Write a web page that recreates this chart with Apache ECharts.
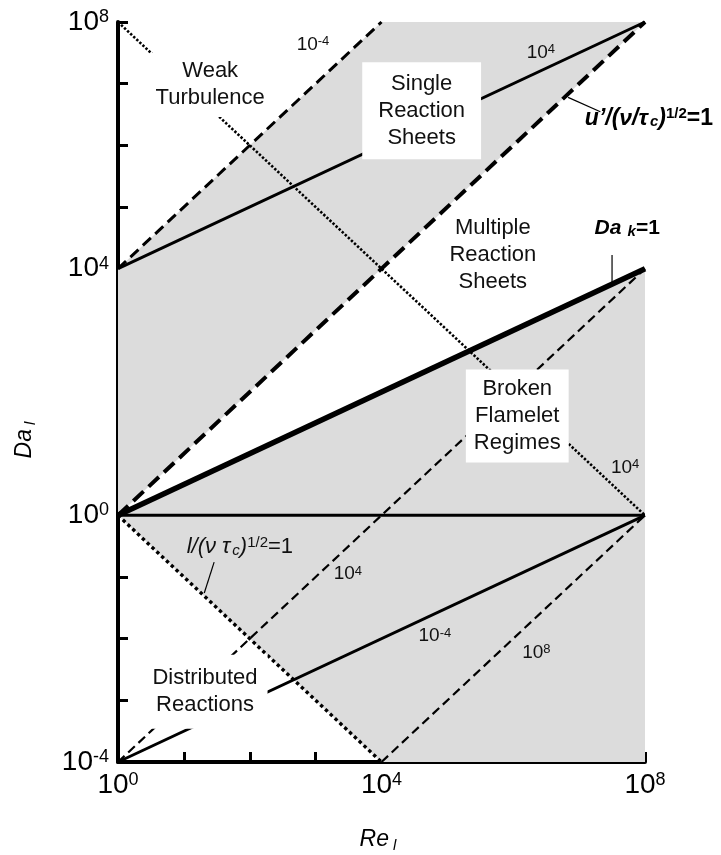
<!DOCTYPE html>
<html>
<head>
<meta charset="utf-8">
<script src="https://cdn.jsdelivr.net/npm/echarts@6/dist/echarts.min.js"></script>
<style>
  html, body { margin: 0; padding: 0; background: #fff; }
  #chart { width: 721px; height: 855px; }
</style>
</head>
<body>
<div id="chart"></div>
<script>
const FONT = "'Liberation Sans', Arial, Helvetica, sans-serif";

// Axis extents: Re_l horizontally, Da_l vertically, both logarithmic
const reExtent = [1, 1e8];
const daExtent = [1e-4, 1e8];
// Decades (powers of ten) that carry a printed tick label
const labelledDecades = [-4, 0, 4, 8];

// Regime boundaries
const velocityRatioLine = [[1, 1], [1e8, 1e8]];   // u'/(nu/tau_c)^1/2 = 1
const kolmogorovDaLine = [[1, 1], [1e8, 1e4]];    // Da_k = 1
const integralDaLine = [[1, 1], [1e8, 1]];        // Da_l = 1
const lengthRatioLine = [[1, 1], [1e4, 1e-4]];    // l/(nu tau_c)^1/2 = 1
const weakTurbulenceLine = [[1, 1e8], [1e8, 1]];

// Iso-lines
const dashedTop = [[1, 1e4], [1e4, 1e8]];
const solidTop = [[1, 1e4], [1e8, 1e8]];
const dashedMiddle = [[1, 1e-4], [1e8, 1e4]];
const dashedBottom = [[1e4, 1e-4], [1e8, 1]];
const solidBottom = [[1, 1e-4], [1e8, 1]];

// Shaded regimes (polygons)
const shadedUpper = [[1, 1], [1, 1e4], [1e4, 1e8], [1e8, 1e8]];
const shadedLower = [[1, 1], [1e8, 1e4], [1e8, 1e-4], [1e4, 1e-4]];

// Leader lines for the boundary labels
const velocityLeader = [[6.8e6, 6.0e6], [2.1e7, 3.5e6]];
const kolmogorovLeader = [[3.16e7, 1.66e4], [3.16e7, 6.0e3]];
const lengthLeader = [[28.8, 0.174], [20.4, 0.055]];

// Text annotations anchored in data coordinates
const regionLabels = [
  { at: [25.1, 9.55e6], text: 'Weak\nTurbulence', pad: [5, 5] },
  { at: [4.07e4, 3.63e6], text: 'Single\nReaction\nSheets', pad: [8, 16] },
  { at: [4.9e5, 1.66e4], text: 'Multiple\nReaction\nSheets', pad: null },
  { at: [1.15e6, 40.7], text: 'Broken\nFlamelet\nRegimes', pad: [6, 8] },
  { at: [20.9, 1.38e-3], text: 'Distributed\nReactions', pad: [10, 10] }
];
const isoLabels = [
  { at: [912, 4.27e7], exp: '-4' },
  { at: [2.63e6, 3.16e7], exp: '4' },
  { at: [5.0e7, 6.0], exp: '4' },
  { at: [3.09e3, 0.112], exp: '4' },
  { at: [6.46e4, 0.011], exp: '-4' },
  { at: [2.24e6, 6.0e-3], exp: '8' }
];
const velocityLabelAt = [1.2e7, 2.75e6];
const kolmogorovLabelAt = [5.37e7, 4.57e4];
const lengthLabelAt = [70.8, 0.309];

function segment(data, width, dash, z) {
  return {
    type: 'line', data: data, symbol: 'none', showSymbol: false,
    silent: true, animation: false, z: z || 3, clip: true,
    lineStyle: { color: '#000', width: width, type: dash || 'solid', cap: 'butt', opacity: 1 }
  };
}

const richMath = {
  bi: { fontFamily: FONT, fontSize: 23, fontStyle: 'italic', fontWeight: 'bold', color: '#000' },
  bsub: { fontFamily: FONT, fontSize: 15, fontStyle: 'italic', fontWeight: 'bold', color: '#000', verticalAlign: 'bottom', padding: [8, 0, 0, 2] },
  bsup: { fontFamily: FONT, fontSize: 15, fontWeight: 'bold', color: '#000', verticalAlign: 'top' },
  b: { fontFamily: FONT, fontSize: 23, fontWeight: 'bold', color: '#000' },
  bk: { fontFamily: FONT, fontSize: 21, fontStyle: 'italic', fontWeight: 'bold', color: '#000' },
  bk2: { fontFamily: FONT, fontSize: 21, fontWeight: 'bold', color: '#000' },
  i: { fontFamily: FONT, fontSize: 22, fontStyle: 'italic', color: '#111' },
  isub: { fontFamily: FONT, fontSize: 15, fontStyle: 'italic', color: '#111', verticalAlign: 'bottom', padding: [8, 0, 0, 2] },
  isup: { fontFamily: FONT, fontSize: 15, color: '#111', verticalAlign: 'top' },
  r: { fontFamily: FONT, fontSize: 22, color: '#111' },
  n: { fontFamily: FONT, fontSize: 19, color: '#111' },
  p: { fontFamily: FONT, fontSize: 13, color: '#111', verticalAlign: 'top' }
};

const labelItems = [];
regionLabels.forEach(function (r) {
  const lab = {
    show: true, position: 'inside', formatter: r.text, opacity: 1,
    fontFamily: FONT, fontSize: 22, lineHeight: 27, color: '#111', align: 'center'
  };
  if (r.pad) { lab.backgroundColor = '#fff'; lab.padding = r.pad; }
  labelItems.push({ value: r.at, label: lab });
});
isoLabels.forEach(function (l) {
  labelItems.push({ value: l.at, label: {
    show: true, position: 'inside', opacity: 1, formatter: '{n|10}{p|' + l.exp + '}', rich: richMath
  } });
});
labelItems.push({ value: velocityLabelAt, label: {
  show: true, position: 'right', distance: 0, opacity: 1,
  formatter: '{bi|u\u2019/(\u03bd/\u03c4}{bsub|c}{bi|)}{bsup|1/2}{b|=1}', rich: richMath
} });
labelItems.push({ value: kolmogorovLabelAt, label: {
  show: true, position: 'inside', opacity: 1,
  formatter: '{bk|Da}{bsub| k}{bk2|=1}', rich: richMath
} });
labelItems.push({ value: lengthLabelAt, label: {
  show: true, position: 'inside', opacity: 1,
  formatter: '{i|l/(\u03bd \u03c4}{isub|c}{i|)}{isup|1/2}{r|=1}', rich: richMath
} });

const tickLabelRich = {
  b: { fontFamily: FONT, fontSize: 28, color: '#000' },
  s: { fontFamily: FONT, fontSize: 18, color: '#000', verticalAlign: 'top' }
};
function decadeLabel(v) {
  const e = Math.round(Math.log10(v));
  return labelledDecades.indexOf(e) >= 0 ? '{b|10}{s|' + e + '}' : '';
}

const axisCommon = {
  type: 'log', logBase: 10, interval: 1,
  axisLine: { show: true, onZero: false, lineStyle: { color: '#000', width: 4 } },
  axisTick: { show: true, inside: true, length: 10, lineStyle: { color: '#000', width: 3 } },
  splitLine: { show: false },
  minorTick: { show: false },
  axisLabel: { formatter: decadeLabel, rich: tickLabelRich, margin: 9, showMinLabel: true, showMaxLabel: true, hideOverlap: false }
};

const chart = echarts.init(document.getElementById('chart'), null, { renderer: 'canvas' });
chart.setOption({
  animation: false,
  backgroundColor: '#fff',
  grid: { left: 118, top: 22, width: 527, height: 740, containLabel: false, outerBoundsMode: 'none' },
  xAxis: Object.assign({}, axisCommon, { min: reExtent[0], max: reExtent[1] }),
  yAxis: Object.assign({}, axisCommon, { min: daExtent[0], max: daExtent[1] }),
  series: [
    {
      type: 'custom', silent: true, animation: false, z: 1,
      data: [[1, 1, 0], [1, 1, 1]],
      renderItem: function (params, api) {
        const poly = [shadedUpper, shadedLower][params.dataIndex];
        return {
          type: 'polygon',
          shape: { points: poly.map(function (p) { return api.coord(p); }) },
          style: { fill: '#dcdcdc' }
        };
      }
    },
    segment(dashedTop, 3, [11, 6]),
    segment(solidTop, 3),
    segment(velocityRatioLine, 4, [14, 7]),
    segment(kolmogorovDaLine, 5.5),
    segment(integralDaLine, 3),
    segment(weakTurbulenceLine, 2.6, [2.4, 1.8]),
    segment(lengthRatioLine, 3.4, [3.4, 3.2]),
    segment(dashedMiddle, 2.2, [9, 5]),
    segment(dashedBottom, 2.2, [9, 5]),
    segment(solidBottom, 3),
    segment(velocityLeader, 1.2),
    segment(kolmogorovLeader, 1.2),
    segment(lengthLeader, 1.2),
    {
      type: 'scatter', silent: true, animation: false, z: 10,
      symbolSize: 1, itemStyle: { color: 'rgba(255,255,255,0)', opacity: 1 },
      data: labelItems
    }
  ],
  graphic: [
    {
      type: 'text', x: 378, y: 840, silent: true,
      style: {
        text: '{a|Re}{s| l}', align: 'center', verticalAlign: 'middle',
        rich: {
          a: { fontFamily: FONT, fontSize: 23, fontStyle: 'italic', fill: '#000', color: '#000' },
          s: { fontFamily: FONT, fontSize: 15, fontStyle: 'italic', fill: '#000', color: '#000', verticalAlign: 'bottom', padding: [12, 0, 0, 0] }
        }
      }
    },
    {
      type: 'text', x: 25, y: 440, rotation: Math.PI / 2, silent: true,
      style: {
        text: '{a|Da}{s| l}', align: 'center', verticalAlign: 'middle',
        rich: {
          a: { fontFamily: FONT, fontSize: 23, fontStyle: 'italic', fill: '#000', color: '#000' },
          s: { fontFamily: FONT, fontSize: 15, fontStyle: 'italic', fill: '#000', color: '#000', verticalAlign: 'bottom', padding: [12, 0, 0, 0] }
        }
      }
    }
  ]
});
</script>
</body>
</html>
